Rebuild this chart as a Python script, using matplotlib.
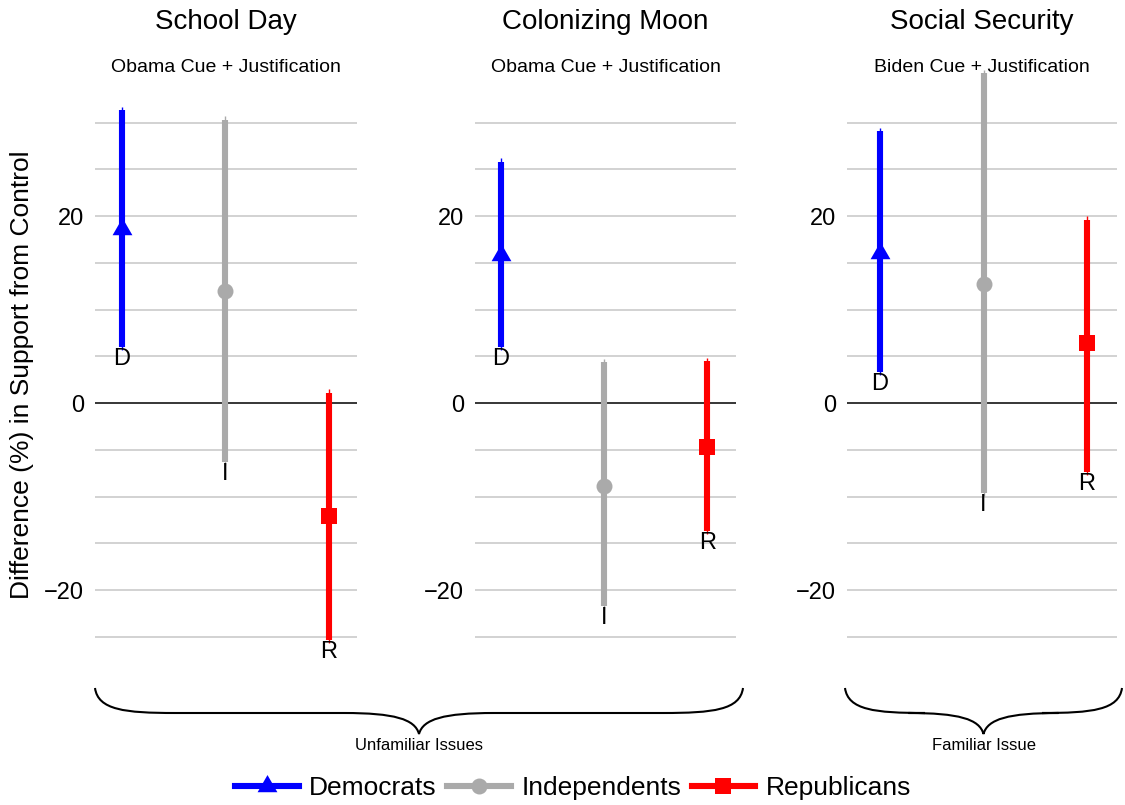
import matplotlib
matplotlib.use("Agg")
import matplotlib.pyplot as plt
from matplotlib.path import Path
from matplotlib.patches import PathPatch
from matplotlib.lines import Line2D

plt.rcParams['font.family'] = ['Liberation Sans', 'DejaVu Sans']

# ---------------- data ----------------
issues = ["School Day", "Colonizing Moon", "Social Security"]
cues = ["Obama Cue + Justification", "Obama Cue + Justification", "Biden Cue + Justification"]
groups = ["Democrats", "Independents", "Republicans"]
group_letters = ["D", "I", "R"]
est_school = [18.6, 12.0, -12.1]
lo_school = [6.0, -6.3, -25.3]
hi_school = [31.3, 30.3, 1.1]
est_moon = [15.8, -8.9, -4.7]
lo_moon = [6.0, -21.7, -13.7]
hi_moon = [25.8, 4.4, 4.5]
est_ss = [16.0, 12.7, 6.4]
lo_ss = [3.3, -9.6, -7.4]
hi_ss = [29.1, 35.3, 19.6]
brace_labels = ["Unfamiliar Issues", "Familiar Issue"]
ytick_vals = [-20, 0, 20]
grid_vals = [-25, -20, -15, -10, -5, 5, 10, 15, 20, 25, 30]

ests = [est_school, est_moon, est_ss]
los = [lo_school, lo_moon, lo_ss]
his = [hi_school, hi_moon, hi_ss]

colors = ["#0000FF", "#AAAAAA", "#FF0000"]
tri = [(0, 1), (-0.866, -0.5), (0.866, -0.5)]
markers = [tri, "o", "s"]
msizes = [16.5, 11.5, 11.3]

W, H = 1125, 805
fig = plt.figure(figsize=(W / 100, H / 100), dpi=100)

def fx(px):
    return px / W

def fy(py):
    return 1 - py / H

ylim = (-28, 36.5)
top_px = 403 - ylim[1] * 9.35
bot_px = 403 - ylim[0] * 9.35
panels = [(95, 262, (0.74, 3.27)), (475, 261, (0.748, 3.28)), (847, 270, (0.68, 3.29))]

for k, (left, width, xl) in enumerate(panels):
    ax = fig.add_axes([fx(left), fy(bot_px), fx(width), (bot_px - top_px) / H])
    ax.set_xlim(*xl)
    ax.set_ylim(*ylim)
    for g in grid_vals:
        ax.axhline(g, color="#c6c6c6", lw=1.1, zorder=0)
    ax.axhline(0, color="black", lw=1.1, zorder=0.5)
    for j in range(3):
        x = j + 1
        c = colors[j]
        ax.plot([x, x], [los[k][j] - 0.35, his[k][j] + 0.35], color=c, lw=1.0, zorder=2,
                solid_capstyle="butt")
        ax.plot([x, x], [los[k][j], his[k][j]], color=c, lw=4.4, zorder=3,
                solid_capstyle="butt")
        ax.plot([x], [ests[k][j]], marker=markers[j], markersize=msizes[j], color=c,
                markeredgewidth=0, linestyle="none", zorder=4)
        ax.text(x, los[k][j] - 1.3, group_letters[j], ha="center", va="center",
                fontsize=17, color="black", zorder=5)
    for s in ax.spines.values():
        s.set_visible(False)
    ax.set_xticks([])
    ax.set_yticks(ytick_vals)
    ax.tick_params(axis="y", length=0, labelsize=17, pad=8, labelcolor="black")
    ax.patch.set_alpha(0)
    cx = left + width / 2
    fig.text(fx(cx), fy(22), issues[k], ha="center", va="center", fontsize=20)
    fig.text(fx(cx), fy(68), cues[k], ha="center", va="center", fontsize=14)

fig.text(fx(22), fy(375), "Difference (%) in Support from Control", rotation=90,
         ha="center", va="center", fontsize=19)

# ---------------- braces ----------------
def brace(x0, x1, ytop=688, yflat=713, ytip=734):
    xm = (x0 + x1) / 2
    pts = [
        (x0, ytop),
        (x0 + 3, yflat - 3), (x0 + 30, yflat), (x0 + 80, yflat),
        (xm - 75, yflat),
        (xm - 25, yflat), (xm - 4, yflat + 6), (xm, ytip),
        (xm + 4, yflat + 6), (xm + 25, yflat), (xm + 75, yflat),
        (x1 - 80, yflat),
        (x1 - 30, yflat), (x1 - 3, yflat - 3), (x1, ytop),
    ]
    codes = [Path.MOVETO,
             Path.CURVE4, Path.CURVE4, Path.CURVE4,
             Path.LINETO,
             Path.CURVE4, Path.CURVE4, Path.CURVE4,
             Path.CURVE4, Path.CURVE4, Path.CURVE4,
             Path.LINETO,
             Path.CURVE4, Path.CURVE4, Path.CURVE4]
    verts = [(fx(px), fy(py)) for px, py in pts]
    patch = PathPatch(Path(verts, codes), facecolor="none", edgecolor="black", lw=1.5,
                      transform=fig.transFigure)
    fig.add_artist(patch)
    return xm

m1 = brace(95, 743)
m2 = brace(845, 1122)
fig.text(fx(m1), fy(745), brace_labels[0], ha="center", va="center", fontsize=12)
fig.text(fx(m2), fy(745), brace_labels[1], ha="center", va="center", fontsize=12)

# ---------------- legend ----------------
handles = [Line2D([0], [0], color=colors[j], lw=4.4, marker=markers[j],
                  markersize=msizes[j], markeredgewidth=0) for j in range(3)]
fig.legend(handles, groups, loc="center", bbox_to_anchor=(fx(573), fy(788)), ncol=3,
           frameon=False, fontsize=19, handlelength=2.4, handletextpad=0.4,
           columnspacing=0.4, borderpad=0, borderaxespad=0)

fig.savefig("out.png", dpi=100)
